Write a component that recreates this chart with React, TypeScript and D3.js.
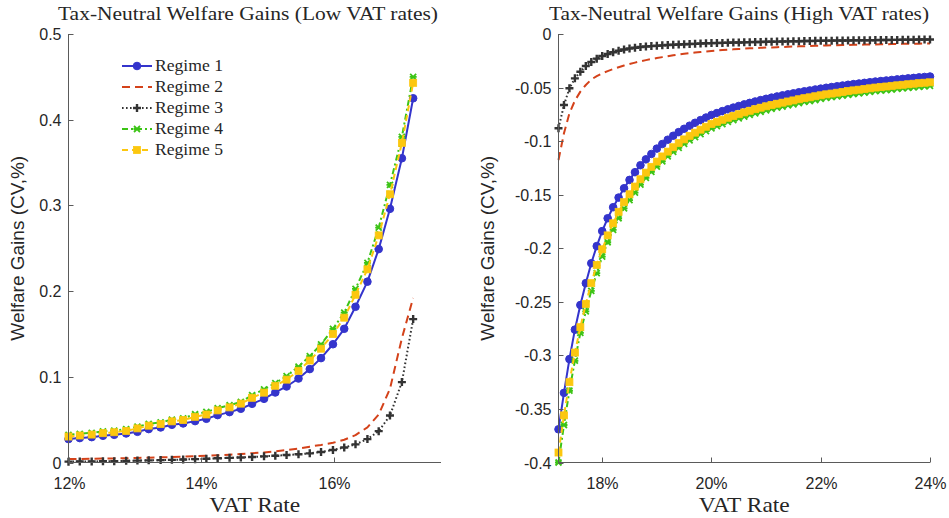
import React, { useEffect, useRef } from 'react';
import * as d3 from 'd3';

// VAT grid, low rates panel
const lowRates = [
  12.0, 12.17, 12.35, 12.52, 12.69, 12.87, 13.04, 13.21, 13.39, 13.56, 13.73,
  13.91, 14.08, 14.25, 14.43, 14.6, 14.77, 14.95, 15.12, 15.29, 15.47,
  15.64, 15.81, 15.99, 16.16, 16.33, 16.51, 16.68, 16.85, 17.03, 17.2,
];

// VAT grid, high rates panel
const highRates = [
  17.2, 17.3, 17.4, 17.5, 17.6, 17.7, 17.8, 17.9, 18.0, 18.1, 18.2, 18.3, 18.4,
  18.5, 18.6, 18.7, 18.8, 18.9, 19.0, 19.1, 19.2, 19.3, 19.4, 19.5, 19.6, 19.7,
  19.8, 19.9, 20.0, 20.1, 20.2, 20.3, 20.4, 20.5, 20.6, 20.7, 20.8, 20.9, 21.0,
  21.1, 21.2, 21.3, 21.4, 21.5, 21.6, 21.7, 21.8, 21.9, 22.0, 22.1, 22.2, 22.3,
  22.4, 22.5, 22.6, 22.7, 22.8, 22.9, 23.0, 23.1, 23.2, 23.3, 23.4, 23.5, 23.6,
  23.7, 23.8, 23.9, 24.0,
];

const regimeNames = ['Regime 1', 'Regime 2', 'Regime 3', 'Regime 4', 'Regime 5'];

// welfare gains, low VAT rates
const lowR1 = [
  0.0273, 0.0285, 0.0296, 0.0312, 0.0323, 0.0339, 0.0358, 0.039, 0.0409, 0.044,
  0.0456, 0.0483, 0.051, 0.0553, 0.0588, 0.0627, 0.0685, 0.0743, 0.0817, 0.0887,
  0.098, 0.109, 0.1218, 0.138, 0.156, 0.1817, 0.211, 0.249, 0.296, 0.355, 0.425,
];
const lowR2 = [
  0.004, 0.0042, 0.0044, 0.0046, 0.0048, 0.005, 0.0053, 0.0056, 0.006, 0.0064,
  0.0068, 0.0073, 0.0078, 0.0084, 0.0091, 0.0099, 0.0108, 0.0118, 0.013, 0.0145,
  0.0163, 0.0185, 0.0205, 0.023, 0.0265, 0.032, 0.041, 0.056, 0.086, 0.145, 0.192,
];
const lowR3 = [
  0.001, 0.0011, 0.0012, 0.0014, 0.0016, 0.0019, 0.0022, 0.0025, 0.0028, 0.0031,
  0.0035, 0.0039, 0.0044, 0.0049, 0.0054, 0.0059, 0.0065, 0.0072, 0.0079, 0.0087,
  0.0096, 0.0107, 0.0123, 0.0146, 0.0175, 0.0212, 0.0273, 0.0366, 0.0548, 0.0938, 0.1673,
];
const lowR4 = [
  0.0323, 0.0335, 0.0346, 0.0362, 0.0373, 0.0389, 0.0418, 0.045, 0.0469, 0.05,
  0.0516, 0.0563, 0.059, 0.0633, 0.0668, 0.0707, 0.0785, 0.0853, 0.0927, 0.1007,
  0.112, 0.124, 0.1378, 0.156, 0.175, 0.2027, 0.233, 0.274, 0.324, 0.38, 0.45,
];
const lowR5 = [
  0.0303, 0.0315, 0.0326, 0.0342, 0.0353, 0.0369, 0.0398, 0.043, 0.0449, 0.048,
  0.0496, 0.0533, 0.056, 0.0608, 0.0643, 0.0687, 0.0755, 0.0815, 0.0895, 0.0967,
  0.107, 0.119, 0.1328, 0.15, 0.169, 0.1957, 0.2254, 0.265, 0.313, 0.373, 0.443,
];

// welfare gains, high VAT rates
const highR1 = [
  -0.369, -0.335, -0.3035, -0.276, -0.253, -0.2326, -0.214, -0.198, -0.184, -0.172,
  -0.1617, -0.1527, -0.144, -0.1362, -0.129, -0.1225, -0.117, -0.112, -0.107, -0.1027,
  -0.0987, -0.095, -0.0916, -0.0885, -0.0856, -0.0829, -0.0804, -0.078, -0.0756, -0.0738,
  -0.072, -0.0703, -0.0687, -0.0672, -0.0657, -0.0643, -0.063, -0.0617, -0.0605, -0.0594,
  -0.0583, -0.0573, -0.0563, -0.0554, -0.0544, -0.0535, -0.0527, -0.0518, -0.051, -0.0502,
  -0.0495, -0.0488, -0.0481, -0.0474, -0.0468, -0.0462, -0.0456, -0.045, -0.0444, -0.0439,
  -0.0434, -0.0429, -0.0424, -0.0419, -0.0414, -0.041, -0.0405, -0.0401, -0.0397,
];
const highR2 = [
  -0.1176, -0.0927, -0.074, -0.0622, -0.0538, -0.0476, -0.0425, -0.0393, -0.0367, -0.0346,
  -0.0327, -0.031, -0.0294, -0.028, -0.0267, -0.0255, -0.0244, -0.0234, -0.0225, -0.0216,
  -0.0207, -0.0199, -0.0192, -0.0185, -0.0179, -0.0173, -0.0168, -0.0163, -0.0158, -0.0154,
  -0.015, -0.0146, -0.0143, -0.014, -0.0137, -0.0134, -0.0132, -0.0129, -0.0127, -0.0125,
  -0.0123, -0.0121, -0.0119, -0.0117, -0.0115, -0.0114, -0.0112, -0.011, -0.0109, -0.0107,
  -0.0106, -0.0104, -0.0103, -0.0102, -0.0101, -0.01, -0.0099, -0.0098, -0.0097, -0.0096,
  -0.0095, -0.0094, -0.0093, -0.0092, -0.0091, -0.009, -0.009, -0.0089, -0.0088,
];
const highR3 = [
  -0.088, -0.0663, -0.0507, -0.0414, -0.0352, -0.0299, -0.0261, -0.023, -0.0205, -0.0187,
  -0.0171, -0.0157, -0.0145, -0.0135, -0.0128, -0.0122, -0.0117, -0.0113, -0.0109, -0.0106,
  -0.0103, -0.01, -0.0098, -0.0096, -0.0094, -0.0092, -0.0089, -0.0087, -0.0085, -0.0084,
  -0.0083, -0.0081, -0.008, -0.0079, -0.0078, -0.0076, -0.0075, -0.0074, -0.0073, -0.0072,
  -0.0071, -0.007, -0.0069, -0.0068, -0.0067, -0.0066, -0.0065, -0.0064, -0.0063, -0.0062,
  -0.0062, -0.0061, -0.006, -0.006, -0.0059, -0.0059, -0.0058, -0.0058, -0.0057, -0.0056,
  -0.0056, -0.0055, -0.0055, -0.0054, -0.0053, -0.0053, -0.0052, -0.0052, -0.0051,
];
const highR4 = [
  -0.4, -0.365, -0.333, -0.305, -0.279, -0.259, -0.2398, -0.2233, -0.2078, -0.1944,
  -0.1829, -0.172, -0.1627, -0.155, -0.148, -0.1406, -0.1343, -0.1287, -0.1238, -0.1189,
  -0.1143, -0.1101, -0.1062, -0.1026, -0.0993, -0.0962, -0.0934, -0.0906, -0.088, -0.086,
  -0.0841, -0.0821, -0.0804, -0.0788, -0.0771, -0.0755, -0.074, -0.0726, -0.0713, -0.07,
  -0.0688, -0.0678, -0.0666, -0.0656, -0.0645, -0.0634, -0.0626, -0.0616, -0.0606, -0.0597,
  -0.059, -0.0582, -0.0575, -0.0567, -0.056, -0.0554, -0.0547, -0.0541, -0.0534, -0.0529,
  -0.0524, -0.0518, -0.0513, -0.0508, -0.0503, -0.0498, -0.0493, -0.0489, -0.0485,
];
const highR5 = [
  -0.3907, -0.356, -0.325, -0.2974, -0.2737, -0.252, -0.2326, -0.2156, -0.201, -0.188,
  -0.1767, -0.166, -0.157, -0.1496, -0.1424, -0.1356, -0.1294, -0.124, -0.1191, -0.1143,
  -0.1098, -0.1057, -0.1019, -0.0984, -0.0951, -0.0921, -0.0893, -0.0866, -0.084, -0.082,
  -0.0801, -0.0782, -0.0765, -0.0749, -0.0732, -0.0717, -0.0702, -0.0688, -0.0675, -0.0663,
  -0.0651, -0.0641, -0.063, -0.062, -0.0609, -0.0599, -0.0591, -0.0581, -0.0572, -0.0563,
  -0.0556, -0.0548, -0.0541, -0.0533, -0.0526, -0.052, -0.0513, -0.0507, -0.05, -0.0495,
  -0.049, -0.0484, -0.0479, -0.0474, -0.0469, -0.0464, -0.0459, -0.0455, -0.0451,
];

const lowXTicks = [12, 14, 16];
const lowYTicks = [0, 0.1, 0.2, 0.3, 0.4, 0.5];
const lowYLabels = ['0', '0.1', '0.2', '0.3', '0.4', '0.5'];
const highXTicks = [18, 20, 22, 24];
const highYTicks = [0, -0.05, -0.1, -0.15, -0.2, -0.25, -0.3, -0.35, -0.4];
const highYLabels = ['0', '-0.05', '-0.1', '-0.15', '-0.2', '-0.25', '-0.3', '-0.35', '-0.4'];

const SERIF = '"Liberation Serif", "DejaVu Serif", serif';
const SANS = '"Liberation Sans", Arial, sans-serif';

const styles = [
  { color: '#3434cc', dash: null, marker: 'circle' },
  { color: '#d4421a', dash: '8,5', marker: null },
  { color: '#333333', dash: '1.6,2.4', marker: 'plus' },
  { color: '#3cc416', dash: '6,3,2,3', marker: 'star' },
  { color: '#fcc70f', dash: '6,4', marker: 'square' },
];

type G = d3.Selection<SVGGElement, unknown, null, undefined>;

function addMarker(g: G, type: string | null, x: number, y: number, color: string) {
  if (type === 'circle') {
    g.append('circle').attr('cx', x).attr('cy', y).attr('r', 3.8)
      .attr('fill', color).attr('stroke', color).attr('stroke-width', 1);
  } else if (type === 'plus') {
    g.append('path').attr('d', `M${x - 4},${y}H${x + 4}M${x},${y - 4}V${y + 4}`)
      .attr('stroke', color).attr('stroke-width', 2.4).attr('fill', 'none');
  } else if (type === 'star') {
    const s = 3;
    g.append('path')
      .attr('d', `M${x - s},${y - s}L${x + s},${y + s}M${x - s},${y + s}L${x + s},${y - s}M${x - s - 0.5},${y}H${x + s + 0.5}`)
      .attr('stroke', color).attr('stroke-width', 1.8).attr('fill', 'none');
  } else if (type === 'square') {
    g.append('rect').attr('x', x - 3.5).attr('y', y - 3.5).attr('width', 7).attr('height', 7)
      .attr('fill', color).attr('stroke', color).attr('stroke-width', 0.8);
  }
}

const App: React.FC = () => {
  const svgRef = useRef<SVGSVGElement>(null);

  useEffect(() => {
    if (!svgRef.current) return;
    const svg = d3.select(svgRef.current);
    svg.selectAll('*').remove();

    const panels = [
      {
        title: 'Tax-Neutral Welfare Gains (Low VAT rates)',
        titleX: 248,
        xs: lowRates,
        series: [lowR1, lowR2, lowR3, lowR4, lowR5],
        x: d3.scaleLinear().domain([12, 17.62]).range([68.5, 441]),
        y: d3.scaleLinear().domain([0, 0.5]).range([462.5, 34]),
        xTicks: lowXTicks,
        yTicks: lowYTicks,
        yLabels: lowYLabels,
        ylabelX: 24,
        legend: true,
      },
      {
        title: 'Tax-Neutral Welfare Gains (High VAT rates)',
        titleX: 739,
        xs: highRates,
        series: [highR1, highR2, highR3, highR4, highR5],
        x: d3.scaleLinear().domain([17.2, 24]).range([558.5, 930]),
        y: d3.scaleLinear().domain([-0.4, 0]).range([462.5, 34]),
        xTicks: highXTicks,
        yTicks: highYTicks,
        yLabels: highYLabels,
        ylabelX: 494,
        legend: false,
      },
    ];

    panels.forEach(p => {
      const g = svg.append('g') as unknown as G;
      const [x0, x1] = p.x.range();
      const [y0, y1] = p.y.range();

      // series
      p.series.forEach((vals, si) => {
        const st = styles[si];
        const pts = vals.map((v, i) => [p.x(p.xs[i]), p.y(v)] as [number, number]);
        const line = d3.line<[number, number]>();
        g.append('path')
          .attr('d', line(pts))
          .attr('fill', 'none')
          .attr('stroke', st.color)
          .attr('stroke-width', 2)
          .attr('stroke-dasharray', st.dash)
          .attr('stroke-linejoin', 'round');
        if (st.marker) {
          const mg = g.append('g') as unknown as G;
          pts.forEach(([px, py]) => addMarker(mg, st.marker, px, py, st.color));
        }
      });

      // axes
      const axisColor = '#5a5a5a';
      g.append('path')
        .attr('d', `M${x0},${y1}V${y0}H${x1}`)
        .attr('fill', 'none').attr('stroke', axisColor).attr('stroke-width', 1);
      p.xTicks.forEach(t => {
        const tx = Math.round(p.x(t)) + 0.5;
        g.append('line').attr('x1', tx).attr('x2', tx).attr('y1', y0).attr('y2', y0 - 5)
          .attr('stroke', axisColor);
        g.append('text').attr('x', tx).attr('y', 489)
          .attr('text-anchor', 'middle').attr('font-family', SANS).attr('font-size', 16)
          .attr('fill', '#262626').text(`${t}%`);
      });
      p.yTicks.forEach((t, i) => {
        const ty = Math.round(p.y(t)) + 0.5;
        g.append('line').attr('x1', x0).attr('x2', x0 + 5).attr('y1', ty).attr('y2', ty)
          .attr('stroke', axisColor);
        g.append('text').attr('x', x0 - 7).attr('y', ty + 5.5)
          .attr('text-anchor', 'end').attr('font-family', SANS).attr('font-size', 16)
          .attr('fill', '#262626').text(p.yLabels[i]);
      });

      // labels
      g.append('text').attr('x', p.titleX).attr('y', 20)
        .attr('text-anchor', 'middle').attr('font-family', SERIF).attr('font-size', 19.5)
        .attr('textLength', 380).attr('lengthAdjust', 'spacingAndGlyphs')
        .attr('fill', '#262626').text(p.title);
      g.append('text').attr('x', (x0 + x1) / 2).attr('y', 512)
        .attr('text-anchor', 'middle').attr('font-family', SERIF).attr('font-size', 21)
        .attr('textLength', 91).attr('lengthAdjust', 'spacingAndGlyphs')
        .attr('fill', '#262626').text('VAT Rate');
      g.append('text')
        .attr('transform', `translate(${p.ylabelX},${(y0 + y1) / 2}) rotate(-90)`)
        .attr('text-anchor', 'middle').attr('font-family', SANS).attr('font-size', 19)
        .attr('fill', '#262626').text('Welfare Gains (CV,%)');

      if (p.legend) {
        const lg = g.append('g') as unknown as G;
        regimeNames.forEach((name, i) => {
          const st = styles[i];
          const ly = 66 + i * 21;
          lg.append('line').attr('x1', 122).attr('x2', 152).attr('y1', ly).attr('y2', ly)
            .attr('stroke', st.color).attr('stroke-width', 2)
            .attr('stroke-dasharray', st.dash);
          addMarker(lg, st.marker, 137, ly, st.color);
          lg.append('text').attr('x', 155).attr('y', ly + 5)
            .attr('font-family', SERIF).attr('font-size', 16.5)
            .attr('textLength', 68).attr('lengthAdjust', 'spacingAndGlyphs')
            .attr('fill', '#262626').text(name);
        });
      }
    });
  }, []);

  return (
    <svg
      ref={svgRef}
      width={949}
      height={518}
      style={{ position: 'absolute', left: 0, top: 0, background: '#fff' }}
    />
  );
};

export default App;
